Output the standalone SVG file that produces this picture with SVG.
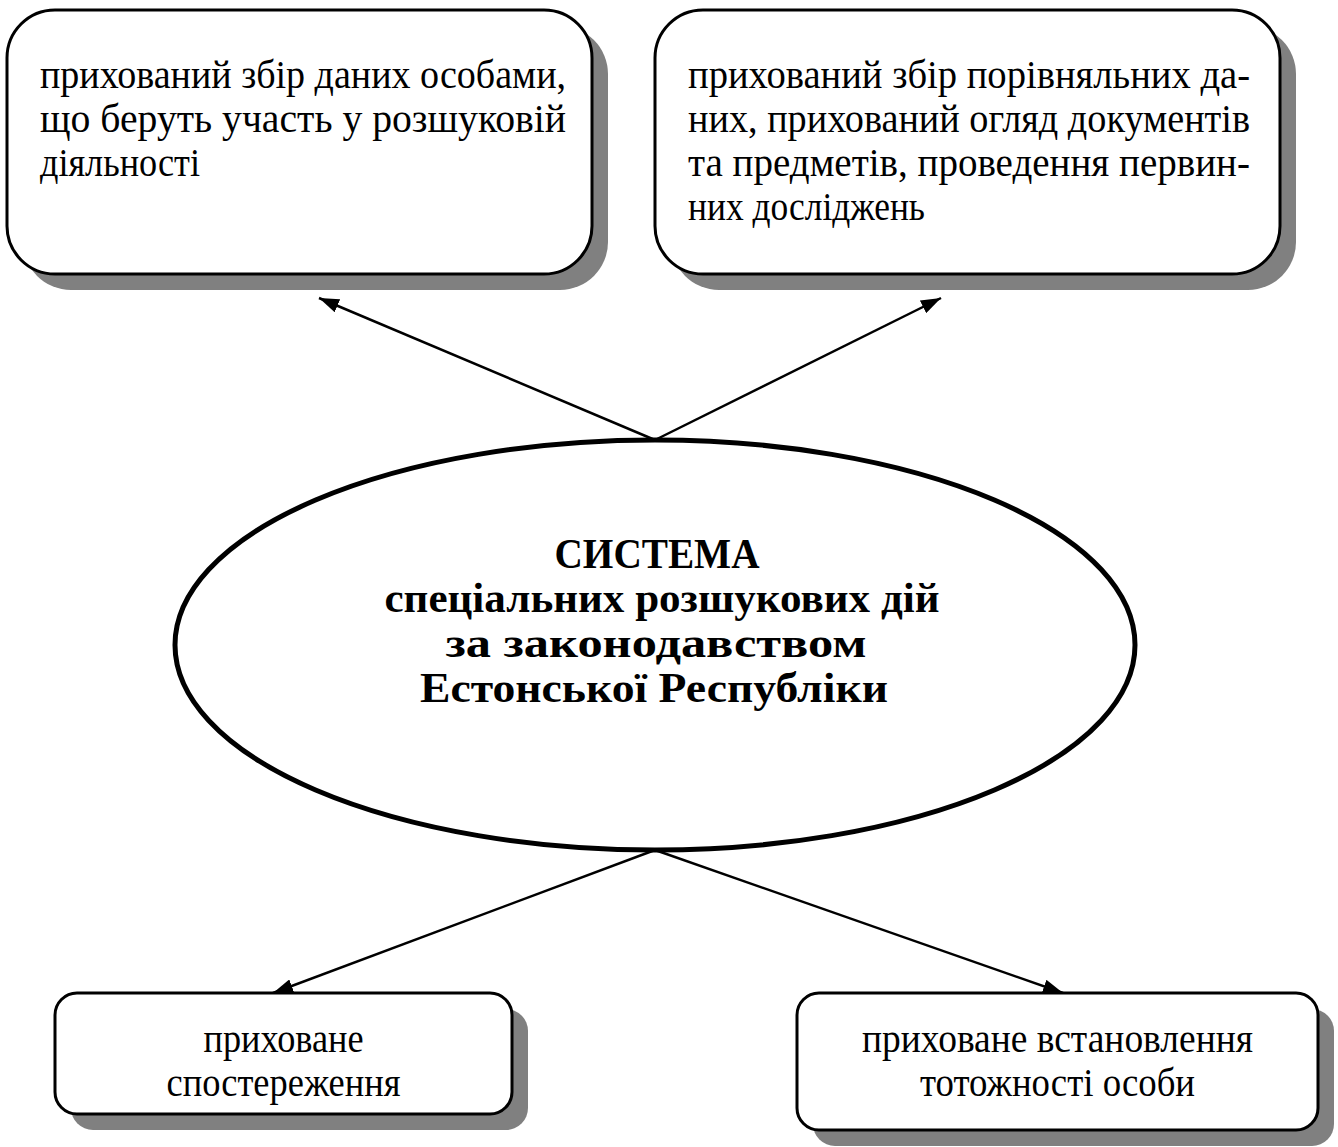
<svg xmlns="http://www.w3.org/2000/svg" width="1338" height="1147" viewBox="0 0 1338 1147">
<defs>
<style>
.box{fill:#fff;stroke:#000;stroke-width:3}
.shadow{fill:#808080;stroke:none}
.t{font-family:"Liberation Serif","Times New Roman",serif;font-size:40px;fill:#000}
.c{text-anchor:middle}
.b{font-weight:bold;font-size:42px}
.conn{stroke:#000;stroke-width:2.5;fill:none}
</style>
<marker id="arr" viewBox="0 0 20 14" refX="20" refY="7" markerWidth="20" markerHeight="14" markerUnits="userSpaceOnUse" orient="auto">
<path d="M0,0 L20,7 L0,14 Z" fill="#000"/>
</marker>
</defs>
<rect width="1338" height="1147" fill="#fff"/>
<g id="connectors">
<line class="conn" x1="655" y1="440" x2="319" y2="298" marker-end="url(#arr)"/>
<line class="conn" x1="655" y1="440" x2="941" y2="298" marker-end="url(#arr)"/>
<line class="conn" x1="655" y1="850" x2="273" y2="993" marker-end="url(#arr)"/>
<line class="conn" x1="655" y1="850" x2="1063" y2="993" marker-end="url(#arr)"/>
</g>
<g id="node-top-left">
<rect class="shadow" x="23" y="26" width="585" height="264" rx="48"/>
<rect class="box" x="7" y="10" width="585" height="264" rx="48"/>
<text class="t"><tspan x="40" y="88" textLength="526" lengthAdjust="spacingAndGlyphs">прихований збір даних особами,</tspan><tspan x="40" y="132" textLength="526" lengthAdjust="spacingAndGlyphs">що беруть участь у розшуковій</tspan><tspan x="40" y="176" textLength="160" lengthAdjust="spacingAndGlyphs">діяльності</tspan></text>
</g>
<g id="node-top-right">
<rect class="shadow" x="671" y="26" width="625" height="264" rx="48"/>
<rect class="box" x="655" y="10" width="625" height="264" rx="48"/>
<text class="t"><tspan x="688" y="88" textLength="562" lengthAdjust="spacingAndGlyphs">прихований збір порівняльних да-</tspan><tspan x="688" y="132" textLength="562" lengthAdjust="spacingAndGlyphs">них, прихований огляд документів</tspan><tspan x="688" y="176" textLength="562" lengthAdjust="spacingAndGlyphs">та предметів, проведення первин-</tspan><tspan x="688" y="220" textLength="237" lengthAdjust="spacingAndGlyphs">них досліджень</tspan></text>
</g>
<g id="node-center">
<ellipse cx="655" cy="645" rx="480" ry="205" fill="#fff" stroke="#000" stroke-width="5"/>
<text class="t b c"><tspan x="657" y="568" textLength="205" lengthAdjust="spacingAndGlyphs">СИСТЕМА</tspan><tspan x="662" y="612" textLength="555" lengthAdjust="spacingAndGlyphs">спеціальних розшукових дій</tspan><tspan x="656" y="657" textLength="421" lengthAdjust="spacingAndGlyphs">за законодавством</tspan><tspan x="654" y="702" textLength="468" lengthAdjust="spacingAndGlyphs">Естонської Республіки</tspan></text>
</g>
<g id="node-bottom-left">
<rect class="shadow" x="71" y="1009" width="457" height="121" rx="22"/>
<rect class="box" x="55" y="993" width="457" height="121" rx="22"/>
<text class="t c"><tspan x="283.5" y="1052" textLength="160" lengthAdjust="spacingAndGlyphs">приховане</tspan><tspan x="283.5" y="1096" textLength="234" lengthAdjust="spacingAndGlyphs">спостереження</tspan></text>
</g>
<g id="node-bottom-right">
<rect class="shadow" x="813" y="1009" width="521" height="137" rx="22"/>
<rect class="box" x="797" y="993" width="521" height="137" rx="22"/>
<text class="t c"><tspan x="1057.5" y="1052" textLength="391" lengthAdjust="spacingAndGlyphs">приховане встановлення</tspan><tspan x="1057.5" y="1096" textLength="275" lengthAdjust="spacingAndGlyphs">тотожності особи</tspan></text>
</g>
</svg>
